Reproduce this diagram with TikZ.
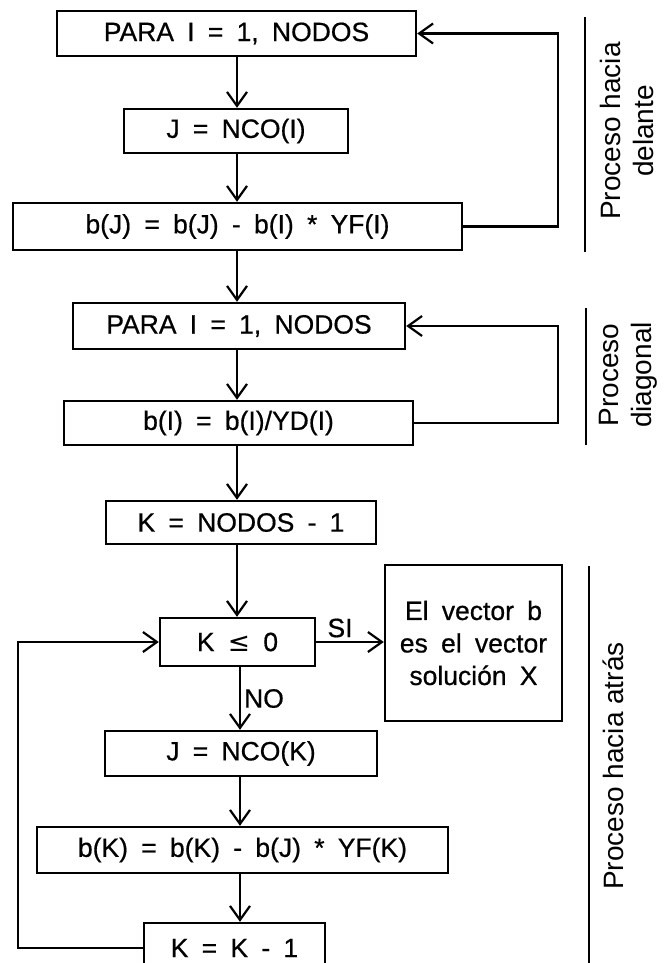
\documentclass[tikz,border=0pt]{standalone}
\usepackage{fontspec}
\setmainfont{Liberation Sans}[WordSpace=1.8, FakeBold=0.6]
\newfontfamily\sidefont{Liberation Sans}
\newfontfamily\symfont{DejaVu Sans}
\usetikzlibrary{arrows.meta}
\begin{document}
\begin{tikzpicture}[x=1pt,y=-1pt,
  box/.style={draw, line width=2.4pt, inner sep=0pt, align=center,
    font=\fontsize{26.5}{32.5}\selectfont},
  conn/.style={line width=2.2pt},
  arr/.style={conn, -{Straight Barb[length=14pt,width=20pt]}},
  lbl/.style={inner sep=0pt, font=\fontsize{26.5}{30}\selectfont},
  side/.style={rotate=90, align=center, inner sep=0pt,
    font=\sidefont\fontsize{28}{33}\selectfont},
  bracket/.style={line width=2.6pt}]
\useasboundingbox (0,0) rectangle (667,963);
\clip (0,0) rectangle (667,963);

% forward substitution
\node[box, minimum width=359pt, minimum height=45pt] (b1) at (236.5,33.5) {PARA I = 1, NODOS};
\node[box, minimum width=224pt, minimum height=44pt] (b2) at (236,131) {J = NCO(I)};
\node[box, minimum width=449pt, minimum height=47pt] (b3) at (237.5,226.5) {b(J) = b(J) - b(I) * YF(I)};

% diagonal step
\node[box, minimum width=332pt, minimum height=46pt] (b4) at (239,326) {PARA I = 1, NODOS};
\node[box, minimum width=349pt, minimum height=44pt] (b5) at (238.5,423) {b(I) = b(I)/YD(I)};

% back substitution
\node[box, minimum width=270pt, minimum height=43pt] (b6) at (241,522.5) {K = NODOS - 1};
\node[box, minimum width=155pt, minimum height=48pt] (b7) at (237.5,642) {K {\symfont ≤} 0};
\node[box, minimum width=177pt, minimum height=156pt] (b8) at (473.5,643) {El vector b\\es el vector\\solución X};
\node[box, minimum width=272pt, minimum height=45pt] (b9) at (241,753.5) {J = NCO(K)};
\node[box, minimum width=411pt, minimum height=46pt] (b10) at (242.5,850) {b(K) = b(K) - b(J) * YF(K)};
\node[box, minimum width=181pt, minimum height=50pt] (b11) at (234.5,948) {K = K - 1};

% axes for the vertical flow and the return lines
\coordinate (ax) at (237,0);
\coordinate (bx) at (240,0);
\coordinate (lc) at (18,0);
\coordinate (rc) at (558,0);

% main flow
\draw[arr] (b1.south -| ax) -- (b2.north -| ax);
\draw[arr] (b2.south -| ax) -- (b3.north -| ax);
\draw[arr] (b3.south -| ax) -- (b4.north -| ax);
\draw[arr] (b4.south -| ax) -- (b5.north -| ax);
\draw[arr] (b5.south -| ax) -- (b6.north -| ax);
\draw[arr] (b6.south -| ax) -- (b7.north -| ax);
\draw[arr] (b7.south -| bx) -- node[lbl, right=3pt] (no) {NO} (b9.north -| bx);
\draw[arr] (b9.south -| bx) -- (b10.north -| bx);
\draw[arr] (b10.south -| bx) -- (b11.north -| bx);

% loops back
\draw[arr] (b3.east) -- (b3.east -| rc) |- (b1.east);
\draw[arr] (b5.east) -- (b5.east -| rc) |- (b4.east);
\draw[arr] (b11.west) -- (b11.west -| lc) |- (b7.west);

% exit
\draw[arr] (b7.east) -- (b7.east -| b8.west);
\node[lbl] (si) at (340,628) {SI};

% section brackets
\draw[bracket] (585,17) -- (585,252);
\draw[bracket] (586,308) -- (586,445);
\draw[bracket] (589,566) -- (589,970);
\node[side] (s1) at (626.5,131) {Proceso hacia\\delante};
\node[side] (s2) at (628,375) {Proceso\\diagonal};
\node[side] (s3) at (613,766) {Proceso hacia atrás};
\end{tikzpicture}
\end{document}
